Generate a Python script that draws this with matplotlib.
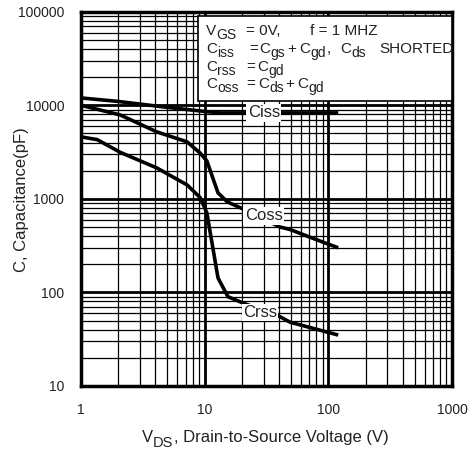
#Import Libraries
import matplotlib
matplotlib.use("Agg")
import matplotlib.pyplot as plt
from matplotlib.transforms import IdentityTransform
from matplotlib.ticker import LogLocator, FixedFormatter, FixedLocator, NullFormatter

plt.rcParams['font.family'] = ['Liberation Sans', 'DejaVu Sans']

#Data
vds_ciss = [1, 2, 5, 10, 13, 120]
ciss = [12000, 11000, 9500, 8600, 8300, 8300]

vds_coss = [1, 2.07, 4.1, 7.2, 9.2, 10.4, 12.8, 15.2, 22, 40.6, 49, 89, 120]
coss = [10000, 7900, 5200, 4070, 3080, 2550, 1160, 930, 745, 500, 470, 347, 300]

vds_crss = [1, 1.35, 2.07, 4.1, 7.2, 9.2, 10.4, 12.8, 15.4, 20.4, 40.6, 49, 120]
crss = [4600, 4300, 3150, 2140, 1410, 1030, 710, 143, 90, 77, 55, 48, 35]

x_ticks = [1, 10, 100, 1000]
y_ticks = [10, 100, 1000, 10000, 100000]

W, H = 471, 453
TXT = '#222222'

#Figure
fig = plt.figure(figsize=(W / 100, H / 100), dpi=100)
ax = fig.add_axes([0.172, 0.148, 0.788, 0.826])
ax.set_xscale('log')
ax.set_yscale('log')
ax.set_xlim(1, 1000)
ax.set_ylim(10, 100000)

#Grid: thick decades, thin minors
ax.xaxis.set_major_locator(FixedLocator(x_ticks))
ax.yaxis.set_major_locator(FixedLocator(y_ticks))
ax.xaxis.set_major_formatter(FixedFormatter([str(v) for v in x_ticks]))
ax.yaxis.set_major_formatter(FixedFormatter([str(v) for v in y_ticks]))
ax.xaxis.set_minor_locator(LogLocator(base=10, subs=range(2, 10), numticks=20))
ax.yaxis.set_minor_locator(LogLocator(base=10, subs=range(2, 10), numticks=20))
ax.xaxis.set_minor_formatter(NullFormatter())
ax.yaxis.set_minor_formatter(NullFormatter())
ax.grid(which='major', color='black', linewidth=2)
ax.grid(which='minor', color='black', linewidth=0.9)
ax.set_axisbelow(True)
ax.tick_params(which='both', length=0, labelsize=10, colors=TXT, pad=12)
for s in ax.spines.values():
    s.set_linewidth(2.5)

#Curves
for x, y in [(vds_ciss, ciss), (vds_coss, coss), (vds_crss, crss)]:
    ax.plot(x, y, color='black', linewidth=2.6, solid_capstyle='butt')

#Curve labels
box = dict(facecolor='white', edgecolor='none', pad=1)
ax.text(30, 8300, 'Ciss', fontsize=12, ha='center', va='center', bbox=box, color=TXT)
ax.text(30, 660, 'Coss', fontsize=12, ha='center', va='center', bbox=box, color=TXT)
ax.text(28, 61, 'Crss', fontsize=12, ha='center', va='center', bbox=box, color=TXT)

#Conditions box
ax.add_patch(plt.Rectangle((0.315, 0.761), 0.685, 0.229, transform=ax.transAxes,
                           facecolor='white', edgecolor='black', linewidth=1.2, zorder=3))

renderer = fig.canvas.get_renderer()


def rich(x, y, pieces, size=11, sub_size=10, drop=4):
    """Write text with big datasheet-style subscripts, x/y in pixels from top-left."""
    for p in pieces:
        if isinstance(p, (int, float)):
            x += p
            continue
        s, sub = p
        t = fig.text(x, H - y + (-drop if sub else 0), s, transform=IdentityTransform(),
                     fontsize=sub_size if sub else size, va='baseline', color=TXT, zorder=5)
        x += t.get_window_extent(renderer).width
    return x


rich(206, 35, [('V', 0), ('GS', 1)])
rich(246, 35, [('= 0V,', 0)])
rich(310, 35, [('f = 1 MHZ', 0)])
rich(206, 53, [('C', 0), ('iss', 1)])
rich(249, 53, [('=', 0)])
rich(259, 53, [('C', 0), ('gs', 1), 3, ('+', 0), 3, ('C', 0), ('gd', 1), 1, (',', 0)])
rich(340, 53, [('C', 0), ('ds', 1)])
rich(379, 53, [('SHORTED', 0)])
rich(206, 71, [('C', 0), ('rss', 1)])
rich(246, 71, [('=', 0)])
rich(257, 71, [('C', 0), ('gd', 1)])
rich(206, 88, [('C', 0), ('oss', 1)])
rich(246, 88, [('=', 0)])
rich(258, 88, [('C', 0), ('ds', 1), 2, ('+', 0), 3, ('C', 0), ('gd', 1)])

#Axis titles
rich(142, 442, [('V', 0), ('DS', 1), (', Drain-to-Source Voltage (V)', 0)],
     size=12, sub_size=10.5, drop=5)
fig.text(22 / W, 1 - 200 / H, 'C, Capacitance(pF)', rotation=90, fontsize=12,
         ha='center', va='center', color=TXT)

plt.savefig('out.png', dpi=100)
